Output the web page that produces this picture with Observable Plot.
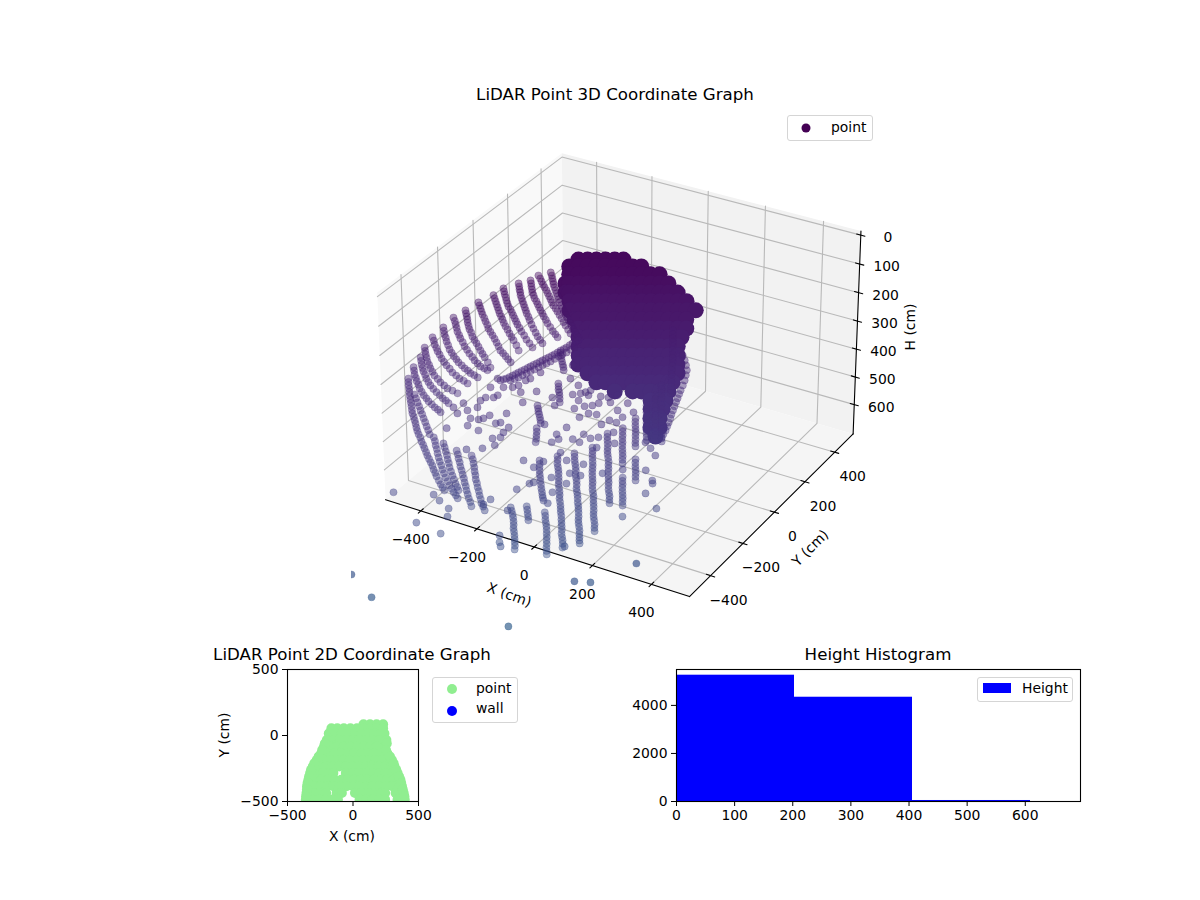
<!DOCTYPE html>
<html><head><meta charset="utf-8">
<script src="https://cdn.jsdelivr.net/npm/d3@7"></script>
<script src="https://cdn.jsdelivr.net/npm/@observablehq/plot@0.6"></script>
<style>
html,body{margin:0;background:#fff}
#page{position:relative;width:1200px;height:900px;overflow:hidden;font-family:"DejaVu Sans",sans-serif;color:#000}
.t{position:absolute;white-space:nowrap;transform:translate(-50%,-50%);line-height:.85}
.lg{position:absolute;box-sizing:border-box;border:1px solid #d5d5d5;border-radius:3px;background:#fff}
.lt{position:absolute;font-size:13.9px;white-space:nowrap;transform:translateY(-50%)}
.ld{position:absolute;border-radius:50%;transform:translate(-50%,-50%)}
</style></head><body><div id="page"></div>
<script>
// ---------- values ----------
const xTicks3d=[-400,-200,0,200,400], yTicks3d=[-400,-200,0,200,400], hTicks3d=[0,100,200,300,400,500,600];
const xLims=[-527,527], yLims=[-527,527], hLims=[-14,707];

// dense block of returns: one H per row, X values along the row
const cloudH=[67,85,106,130,154,177,201,225,249,272,296,320,344,367,391,415,439,462,486,510,534];
const cloudX=[
[-197,-173,-150,-126,-102,-79],
[-216,-192,-168,-145,-121,-97,-74,-50,-27],
[-210,-186,-162,-139,-115,-91,-68,-44,-21,3,27],
[-213,-203,-179,-155,-132,-108,-84,-61,-37,-14,10,34,57],
[-206,-196,-172,-148,-125,-101,-77,-54,-30,-7,17,41,64,88],
[-189,-165,-141,-118,-94,-70,-47,-23,0,24,48,71,95,118],
[-182,-158,-134,-111,-87,-63,-40,-16,7,31,55,78,102,125,149],
[-162,-152,-128,-105,-81,-57,-34,-10,13,37,61,84,108,131],
[-145,-121,-98,-74,-50,-27,-3,20,44,68,91,115,138],
[-138,-114,-91,-67,-43,-20,4,27,51,75,98,122,132],
[-131,-107,-84,-60,-36,-13,11,34,58,82,105,129],
[-124,-100,-77,-53,-29,-6,18,41,65,89,112,136],
[-118,-94,-71,-47,-23,0,24,47,71,95,118,142],
[-87,-64,-40,-16,7,31,54,78,102,125,149],
[-57,-33,-9,14,38,61,85,109,132,143],
[-2,45,68,92,116,139],
[99,123,138],[106,130,137],[112,136],[119,143],[139]];

// scan lines
const stripX=[
[-260,-255,-251,-247,-244,-239,-234,-229,-224,-219,-214,-208,-202,-196,-189,-183,-177,-170,-164,-158,-152,-145,-138],
[-290,-283,-277,-271,-265,-258,-252,-246,-240,-234,-228,-220,-213,-205,-197,-189,-181,-171,-162],
[-307,-303,-300,-296,-293,-288,-283,-276,-270,-264,-258,-251,-245,-237,-230,-220,-210,-201,-193],
[-336,-332,-329,-325,-322,-317,-312,-307,-302,-297,-292,-285,-279,-271,-263,-254,-246,-237,-228],
[-372,-368,-364,-359,-355,-350,-345,-338,-332,-326,-320,-314,-308,-300,-292,-282,-273,-262,-251],
[-393,-388,-383,-378,-373,-368,-363,-357,-351,-345,-338,-330,-322,-314,-306,-295,-285],
[-427,-422,-417,-412,-407,-400,-394,-387,-381,-373,-365,-357,-349,-341,-333,-324,-315,-306,-297],
[-455,-451,-447,-443,-440,-435,-430,-423,-417,-409,-401,-393,-385,-377,-369,-357,-346],
[-481,-475,-470,-465,-460,-453,-447,-438,-430,-421,-412,-402,-393,-383,-373,-362,-352],
[-500,-496,-492,-486,-481,-474,-467,-459,-451,-442,-434,-423,-413,-403,-394,-383,-372],
[-521,-515,-510,-503,-497,-489,-481,-472,-463,-452,-442,-430,-419,-406,-394],
[-534,-530,-526,-521,-516,-509,-503,-495,-487,-476,-466,-454,-443,-428,-413],
[-537,-533,-529,-524,-519,-512,-506,-498,-490,-480,-469,-458,-448,-438,-429],
[-548,-544,-540,-534,-529,-522,-516,-508,-500,-491,-483,-472,-462,-452,-443],
[-553,-550,-547,-543,-540,-536,-532,-528,-524,-520,-516,-510,-505,-500,-495,-490,-484,-477,-471,-464,-458,-451,-445,-438,-431,-424,-418,-411,-405,-396,-388,-381,-374],
[-525,-518,-511,-504,-497,-490,-483,-476,-469,-462,-455],
[-442,-436,-431,-425,-420,-414,-408,-401,-395,-388,-381,-372,-364,-356,-348,-340,-333],
[-412,-406,-400,-394,-389,-383,-378,-371,-364,-357,-350,-343,-337],
[-372,-366,-361,-355,-350,-344,-338,-332,-327,-321,-316,-310,-304,-297,-291],
[-329,-323,-318,-313,-309,-304,-300,-294,-289,-283,-278,-272,-267,-260,-253],
[-187,-182,-177,-173,-169,-166,-164,-160,-156,-153,-150,-147,-145],
[-146,-142,-138,-134,-131],
[-147,-144,-142,-139,-136,-132,-129,-125,-121,-117,-113,-110,-106],
[-94,-90,-87,-83,-79,-76,-73,-70,-68,-65,-63,-60,-57],
[-103,-100,-98,-94,-90,-87,-84,-81,-79,-75,-71,-68,-66,-62,-58,-55,-52,-48,-45,-42,-39,-36,-34,-30,-26,-23,-21],
[-61,-58,-55,-51,-47,-44,-42,-38,-34,-31,-29,-25,-21,-18,-15,-11,-8,-5,-2,0,3,7,11,13,16,18,21],
[-18,-15,-13,-10,-7,-4,-2,0,3,6,9,11,14,18,22,24,27,30,33,35,38,42,46,48,51],
[11,13,16,19,22,24,27,31,35,37,40,42,45,48,51,53,56,60,64,66,69],
[47,49,52,54,57,59,62,65,68,70,73,84,86,89,91,94,97,100,102,105],
[73,75,78,81,84,86,89,91,94,104,106,109,112,115,117,120],
[92,94,97,100,103,105,108,110,113,116,119],
[108,111,114,117,120,123,126,129,132,135,138],
[116,119,122,125,128,131,134,137,141,144,147,150,153,156,159],
[104,107,110,113,116,119,122,125,128,130,131,134,137,140,143,145,146],
[140,149,158,165,171,172,173,172,170,169,168,167,166,165,164,164,163,162,161,158,156],
[-174,-170,-167,-163,-159,-155,-152],
[-156,-153,-151,-147,-144,-141,-138],
[-194,-190,-187,-183,-179,-175,-172],
[-179,-176,-174,-172,-171],
[-310,-303,-296,-289,-282,-275,-269,-262,-255,-248,-242,-235,-228,-221,-215,-208,-201,-194,-188,-181,-175,-168,-162,-155,-149,-142,-136],
[-284,-274,-265,-256,-247,-238,-229,-220,-211,-202,-193,-184,-176,-167,-158,-149,-141]];
const stripH=[
[101,109,117,125,132,140,148,156,164,172,180,188,196,204,212,220,227,235,243,251,259,266,272],
[109,117,125,133,140,148,156,164,172,180,188,196,204,213,222,232,241,252,262],
[122,130,138,146,154,161,169,177,185,193,201,209,217,226,235,245,256,264,272],
[130,138,146,153,161,169,177,185,193,201,209,218,227,238,249,260,270,279,288],
[143,151,159,167,175,183,191,198,206,214,222,230,238,247,257,267,278,288,299],
[161,169,177,185,193,201,209,217,225,234,243,252,262,271,280,293,307],
[180,188,196,204,212,221,230,239,249,258,267,276,286,296,307,314,322,330,338],
[201,209,217,225,233,242,251,260,270,279,288,297,307,316,325,338,352],
[220,229,238,247,257,266,275,285,296,305,315,324,333,341,349,354,359],
[246,255,264,273,283,293,304,313,322,330,338,346,354,360,367,372,378],
[272,281,291,300,309,318,328,337,346,355,365,373,381,387,394],
[299,308,317,326,336,345,354,363,373,382,391,399,407,413,420],
[325,334,344,353,362,371,381,390,399,408,417,425,433,439,446],
[351,360,370,379,388,397,407,416,425,433,441,449,457,463,470],
[381,390,399,408,417,427,436,445,454,464,473,482,491,500,510,519,528,537,547,556,565,575,584,593,602,611,621,630,639,650,660,668,676],
[423,433,444,454,465,475,486,496,507,517,528],
[536,546,557,567,578,589,600,610,621,631,642,652,663,672,681,689,697],
[552,562,573,583,594,604,615,626,637,647,658,667,676],
[571,581,592,602,613,623,634,644,655,665,676,686,697,707,718],
[584,594,605,615,626,636,647,657,668,678,689,699,710,719,729],
[721,730,739,748,758,767,776,785,795,804,813,822,832],
[718,727,737,746,755],
[597,606,615,624,634,643,652,661,671,680,689,696,703],
[734,743,753,762,771,780,790,799,808,817,827,836,845],
[586,595,605,614,623,632,642,651,660,669,679,688,697,706,716,725,734,743,753,762,771,780,790,799,808,817,827],
[578,587,597,606,615,624,634,643,652,661,671,680,689,698,708,717,726,735,745,754,763,772,782,791,800,808,816],
[563,572,581,590,600,609,618,627,637,646,655,664,674,683,692,701,710,719,729,738,747,756,766,775,784],
[526,535,544,553,563,572,581,590,600,609,618,627,637,646,655,664,674,683,692,701,710],
[512,521,531,540,549,558,568,577,586,595,605,642,651,660,669,679,688,697,706,716],
[486,495,505,514,523,532,542,551,560,594,603,613,622,631,640,650],
[452,461,470,479,489,498,507,516,526,535,544],
[425,435,446,456,467,478,489,499,510,520,531],
[399,409,420,430,441,451,462,472,483,494,505,515,526,536,547],
[254,264,275,285,296,306,317,327,338,348,359,370,381,391,402,411,420],
[307,320,333,346,359,372,386,399,412,422,433,443,454,465,476,486,497,507,518,528,539],
[312,320,328,336,344,351,359],
[394,402,410,417,425,434,444],
[452,460,468,475,483,491,499],
[512,521,531,540,549],
[386,383,381,377,373,369,365,361,357,353,349,345,341,337,333,329,325,321,317,312,307,303,299,293,288,284,280],
[386,382,378,372,367,362,357,351,346,341,336,329,322,317,312,305,299]];

// single returns on the floor area
const floorX=[-235,-207,-161,-149,-110,-90,-78,-68,-90,-95,-70,-50,-35,-54,-32,-75,-14,8,41,20,63,6,38,26,-12,-101,-161,-122,-113,-76,-51,-56,-129,-30,-10,-7,37,26,-98,-189,-136,-76,-29,-157,-58,-28,28,-103,117,135,153,139,164,78,
-506,-423,-351,-349,-346,-399,-379,-347,-306,-246,-261,-195,-190,-184,-193,-185,-156,-146,-93,-89,-59,-16,196,167,156,113,
-326,-338,-312,-290,-278,-269,-253,-263,-267,-287,-276,-330,-362,-360,-415,-398,-306,-390,-413,-374,-350,-347,-315,-336,-331,-319,-297,-273,-259,-244,-233,-211,-248,-132,-128,-102,-66,-35,-5];
const floorH=[444,415,431,452,423,420,417,425,439,460,454,452,446,473,476,483,431,425,446,465,470,491,483,497,502,510,502,528,541,541,528,549,549,539,536,563,552,523,576,597,600,597,607,615,631,637,631,642,549,565,584,623,650,621,
681,761,790,724,745,687,703,568,565,700,713,795,813,824,729,673,658,655,710,681,658,824,724,658,684,745,
486,489,478,499,497,473,510,523,536,539,557,518,505,486,512,473,425,446,457,465,457,439,431,431,404,381,404,404,399,386,381,365,417,346,381,399,412,428,444];

// far returns, beyond the box
const farX=[36,79,185,-554,-484,-103];
const farH=[916,919,869,898,958,1035];

// 2D footprint: one Y per row, X values along the row
const footY=[85,55,15,-35,-85,-135,-185,-235,-285,-335,-385,-435,-485,-60,-110,-160,-210,-260,-310,-360,-410,-460];
const footX=[
[80,130,180,230],
[-165,-120,-70,-20,30,80,130,180,230],
[-185,-135,-85,-35,15,65,115,165,215,240],
[-200,-150,-100,-50,0,50,100,150,200,255],
[-222,-170,-120,-70,-20,30,80,130,180,245],
[-242,-190,-140,-90,-40,10,60,110,160,210,262],
[-277,-225,-175,-125,-75,-25,25,75,125,175,225,270,297],
[-307,-255,-205,-155,-105,-55,-5,45,95,145,195,245,295,317],
[-327,-275,-225,-175,-150,-55,0,50,100,150,200,250,300,340],
[-340,-290,-240,-190,-140,-90,-40,10,60,110,160,210,260,310,345,362],
[-351,-300,-250,-200,-150,-100,-50,0,50,100,150,200,250,300,350,374],
[-355,-305,-255,-205,-125,-85,15,65,115,165,215,245,325,375,387],
[-360,-310,-260,-210,-160,-115,50,100,150,200,245,340,395],
[-215,258],[-235,252],[-262,282],[-295,310],[-320,330],[-335,352],[-347,368],[-352,380],[-358,392]];

// histogram
const histEdges=[0,203,406,609];
const histCounts=[5257,4340,42];
const histXTicks=[0,100,200,300,400,500,600], histYTicks=[0,2000,4000];
const ticks2d=[-500,0,500];

// ---------- the 3D view: elevation 30, azimuth -60, camera distance 10 ----------
const boxZ=0.68, dist=10;
function project(X,Y,H){
  const bx=X/(xLims[1]-xLims[0]), by=Y/(yLims[1]-yLims[0]);
  const bz=boxZ*((hLims[0]+hLims[1])/2-H)/(hLims[1]-hLims[0]);
  const u=.866025*bx+.5*by, v=-.25*bx+.433013*by+.866025*bz, w=.433013*bx-.75*by+.5*bz;
  const d=dist-w; return {sx:u/d,sy:v/d,X,Y,H};
}
// The picture gives no depth along the line of sight: each point is placed on the
// view plane through the box centre, so its Y follows from its X and H.
const depthY=(X,H)=>0.5773*X+0.6627*(346.5-H);
const P=(X,H)=>project(X,depthY(X,H),H);

const cloud=cloudH.flatMap((h,i)=>cloudX[i].map(x=>P(x,h)));
const strips=stripX.flatMap((xs,i)=>xs.map((x,j)=>P(x,stripH[i][j])));
const floor=floorX.map((x,i)=>P(x,floorH[i]));
const far=farX.map((x,i)=>P(x,farH[i]));

const [xa,xb]=xLims,[ya,yb]=yLims,[ht,hb]=hLims;
const path=(id,...c)=>c.map(p=>({id,...project(...p)}));
const paneLeft=path("l",[xa,ya,hb],[xa,yb,hb],[xa,yb,ht],[xa,ya,ht]);
const paneBack=path("b",[xa,yb,hb],[xb,yb,hb],[xb,yb,ht],[xa,yb,ht]);
const paneFloor=path("f",[xa,ya,hb],[xb,ya,hb],[xb,yb,hb],[xa,yb,hb]);
const grid=[
 ...xTicks3d.flatMap(x=>path("x"+x,[x,ya,hb],[x,yb,hb],[x,yb,ht])),
 ...yTicks3d.flatMap(y=>path("y"+y,[xb,y,hb],[xa,y,hb],[xa,y,ht])),
 ...hTicks3d.flatMap(h=>path("h"+h,[xa,ya,h],[xa,yb,h],[xb,yb,h]))];
const axesLines=[...path("ax",[xa,ya,hb],[xb,ya,hb]),...path("ay",[xb,ya,hb],[xb,yb,hb]),...path("ah",[xb,yb,hb],[xb,yb,ht])];
const tickSegs=[
 ...xTicks3d.flatMap(x=>path("tx"+x,[x,ya-14,hb],[x,ya+14,hb])),
 ...yTicks3d.flatMap(y=>path("ty"+y,[xb+14,y,hb],[xb-14,y,hb])),
 ...hTicks3d.flatMap(h=>path("th"+h,[xb-14,yb,h],[xb+14,yb,h]))];
const fmt=d=>String(d).replace("-","\u2212");
const base={x:"sx",y:"sy"};
const L=351,R=880,T=100,B=638;
const cx=622.5,cy=365,k=3480;
const chart3d=Plot.plot({
  width:1200,height:640,marginLeft:L,marginRight:1200-R,marginTop:T,marginBottom:640-B,
  style:{position:"absolute",left:"0",top:"0",background:"transparent",fontFamily:"DejaVu Sans",fontSize:"13.9px",overflow:"visible"},
  x:{domain:[(L-cx)/k,(R-cx)/k],axis:null},
  y:{domain:[(cy-B)/k,(cy-T)/k],axis:null},
  color:{type:"linear",scheme:"viridis",domain:[0,3400]},
  marks:[
    Plot.line(paneLeft,{...base,fill:"#f9f9f9",stroke:"none"}),
    Plot.line(paneBack,{...base,fill:"#f2f2f2",stroke:"none"}),
    Plot.line(paneFloor,{...base,fill:"#f5f5f5",stroke:"none"}),
    Plot.line(grid,{...base,z:"id",stroke:"#b9b9b9",strokeWidth:1.1}),
    Plot.line(axesLines,{...base,z:"id",stroke:"#000",strokeWidth:1.1}),
    Plot.line(tickSegs,{...base,z:"id",stroke:"#000",strokeWidth:1.1}),
    Plot.dot(cloud,{...base,r:8,fill:"H",stroke:"none",clip:true}),
    Plot.dot(strips,{...base,r:3.6,fill:"H",fillOpacity:.45,stroke:"H",strokeOpacity:.3,strokeWidth:.8,clip:true}),
    Plot.dot(floor,{...base,r:3.6,fill:"H",fillOpacity:.5,stroke:"H",strokeOpacity:.3,strokeWidth:.8,clip:true}),
    Plot.dot(far,{...base,r:3.6,fill:"H",fillOpacity:.68,stroke:"H",strokeOpacity:.3,strokeWidth:.8,clip:true}),
    Plot.text(xTicks3d.map(x=>project(x,ya,hb)),{...base,text:d=>fmt(d.X),dx:-10,dy:28.5}),
    Plot.text(yTicks3d.map(y=>project(xb,y,hb)),{...base,text:d=>fmt(d.Y),dx:18,dy:24.5}),
    Plot.text(hTicks3d.map(h=>project(xb,yb,h)),{...base,text:d=>fmt(d.H),dx:27,dy:2.5}),
    Plot.text([project(0,ya,hb)],{...base,text:()=>"X (cm)",dx:-25,dy:48,rotate:20}),
    Plot.text([project(xb,0,hb)],{...base,text:()=>"Y (cm)",dx:36,dy:36,rotate:-45}),
    Plot.text([project(xb,yb,346)],{...base,text:()=>"H (cm)",dx:54,dy:-7,rotate:-90})
  ]});

const axStyle=(left)=>({position:"absolute",left:left+"px",top:"640px",background:"transparent",fontFamily:"DejaVu Sans",fontSize:"13.9px",overflow:"visible"});
const foot=footY.flatMap((y,i)=>footX[i].map(x=>({x,y})));
const chart2d=Plot.plot({
  width:260,height:220,marginLeft:87,marginRight:42,marginTop:29,marginBottom:59,style:axStyle(200),
  x:{domain:[-500,500],axis:null},y:{domain:[-500,500],axis:null},
  marks:[
    Plot.dot(foot,{x:"x",y:"y",r:5,fill:"#90ee90",clip:true}),
    Plot.frame({stroke:"#000",strokeWidth:1.1}),
    Plot.axisX({ticks:ticks2d,tickSize:5,tickPadding:4,label:null}),
    Plot.axisY({ticks:ticks2d,tickSize:5,tickPadding:4,label:null})
  ]});
const bins=histCounts.map((c,i)=>({lo:histEdges[i],hi:histEdges[i+1],c}));
const chartHist=Plot.plot({
  width:470,height:220,marginLeft:46,marginRight:20,marginTop:29,marginBottom:59,style:axStyle(630),
  x:{domain:[0,695],axis:null},y:{domain:[0,5494],axis:null},
  marks:[
    Plot.rectY(bins,{x1:"lo",x2:"hi",y:"c",fill:"#0000ff"}),
    Plot.frame({stroke:"#000",strokeWidth:1.1}),
    Plot.axisX({ticks:histXTicks,tickSize:5,tickPadding:4,label:null,tickFormat:d=>String(d)}),
    Plot.axisY({ticks:histYTicks,tickSize:5,tickPadding:4,label:null,tickFormat:d=>String(d)})
  ]});

const page=document.getElementById("page");
page.append(chart3d,chart2d,chartHist);
function el(cls,css,txt){const d=document.createElement("div");d.className=cls;d.style.cssText=css;if(txt)d.textContent=txt;page.append(d);return d;}
el("t","left:615px;top:95px;font-size:16.67px","LiDAR Point 3D Coordinate Graph");
el("t","left:352px;top:655px;font-size:16.67px","LiDAR Point 2D Coordinate Graph");
el("t","left:878px;top:655px;font-size:16.67px","Height Histogram");
el("t","left:352px;top:837px;font-size:13.9px","X (cm)");
el("t","left:225px;top:735px;font-size:13.9px;transform:translate(-50%,-50%) rotate(-90deg)","Y (cm)");
el("lg","left:787px;top:115px;width:86px;height:26px");
el("ld","left:806px;top:128px;width:9px;height:9px;background:#440154");
el("lt","left:831px;top:127px","point");
el("lg","left:432px;top:677px;width:86px;height:46px");
el("ld","left:452px;top:689px;width:10px;height:10px;background:#90ee90");
el("ld","left:452px;top:711px;width:10px;height:10px;background:#0000ff");
el("lt","left:476px;top:688px","point");
el("lt","left:476px;top:708px","wall");
el("lg","left:977px;top:677px;width:96px;height:25px");
el("ld","left:997px;top:688px;width:28px;height:10px;background:#0000ff;border-radius:0");
el("lt","left:1022px;top:688px","Height");
</script></body></html>
